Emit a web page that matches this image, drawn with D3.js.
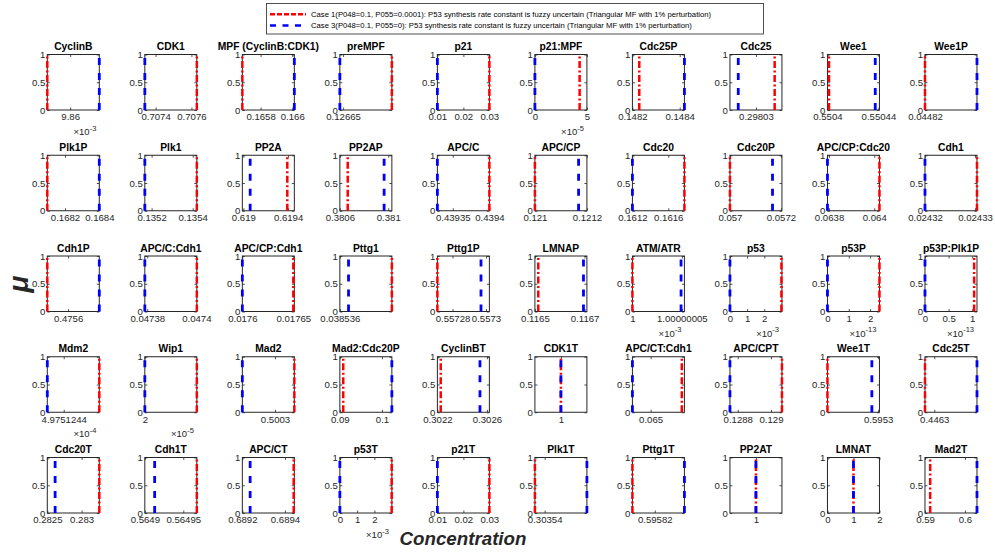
<!DOCTYPE html>
<html><head><meta charset="utf-8">
<script src="https://cdn.jsdelivr.net/npm/d3@7"></script>
<style>body{margin:0;background:#fff} svg{display:block} text{font-family:"Liberation Sans",Arial,Helvetica,sans-serif}</style>
</head><body><svg id="c" width="995" height="552"></svg>
<script>
// ---------- DATA ----------
const titles = [
  "CyclinB","CDK1","MPF (CyclinB:CDK1)","preMPF","p21","p21:MPF","Cdc25P","Cdc25","Wee1","Wee1P",
  "Plk1P","Plk1","PP2A","PP2AP","APC/C","APC/CP","Cdc20","Cdc20P","APC/CP:Cdc20","Cdh1",
  "Cdh1P","APC/C:Cdh1","APC/CP:Cdh1","Pttg1","Pttg1P","LMNAP","ATM/ATR","p53","p53P","p53P:Plk1P",
  "Mdm2","Wip1","Mad2","Mad2:Cdc20P","CyclinBT","CDK1T","APC/CT:Cdh1","APC/CPT","Wee1T","Cdc25T",
  "Cdc20T","Cdh1T","APC/CT","p53T","p21T","Plk1T","Pttg1T","PP2AT","LMNAT","Mad2T"
];
// x-axis limits (in displayed units, i.e. already divided by 10^exponent)
const xMin = [
  9.8578,0.70734,0.165685,0.126648,0.01,0,0.1482,0.298025,0.5504,0.04482,
  0.168097,0.135167,0.618991,0.3806,0.439329,0.121,0.1612,0.057,0.063793,0.02432,
  0.475596,0.047379,0.0176,0.038536,0.557271,0.1165,1,0,0,0,
  4.9751238,2,0.500268,0.09,0.3022,0.9999,0.0649895,0.128753,0.59526,0.446295,
  0.2825,0.5649,0.6892,0,0.01,0.303534,0.5958157,0.99,0,0.59
];
const xMax = [
  9.8628,0.70763,0.166013,0.12668,0.03,5,0.14842,0.298035,0.5504408,0.044824,
  0.1684,0.13542,0.619456,0.38103,0.4394,0.1212,0.16178,0.057204,0.064023,0.0243304,
  0.475606,0.0474002,0.017651,0.0385366,0.557302,0.1167094,1.0000000526,3.03,2.44,1.1,
  4.9751257,2.000001,0.500319,0.10235,0.30262,1.0001,0.0650195,0.129066,0.595301,0.446323,
  0.283258,0.5649676,0.689444,3.01,0.03,0.303566,0.5958257,1.01,2,0.603
];
// Case 1 (P048=0.1, P055=0.0001) – red dash-dot
const case1 = [
  9.8578,0.70763,0.165685,0.12668,0.03,4.3,0.148229,0.2980336,0.5504012,0.04482,
  0.168097,0.13542,0.619393,0.380665,0.4394,0.121,0.16178,0.057,0.064023,0.0243304,
  0.475596,0.0474002,0.01765,0.0385366,0.557271,0.1165136,1,3.0,2.44,1.04,
  4.9751257,2.000001,0.500319,0.0908,0.302227,1,0.065018,0.129066,0.59526,0.446295,
  0.283258,0.5649676,0.689441,3.0,0.03,0.303534,0.5958157,1,1,0.5913
];
// Case 3 (P048=0.1, P055=0) – blue dashed
const case3 = [
  9.8628,0.70734,0.166013,0.126648,0.01,0,0.14842,0.2980266,0.5504375,0.044824,
  0.1684,0.135167,0.619061,0.380966,0.439329,0.121168,0.1612,0.057167,0.063793,0.02432,
  0.475606,0.047379,0.0176,0.0385361,0.557297,0.1166956,1.0000000492,0,0,0,
  4.9751238,2,0.500268,0.10235,0.302544,1,0.0649895,0.128753,0.595295,0.446323,
  0.282614,0.5649128,0.6892366,0,0.01,0.303566,0.5958257,1,1,0.603
];
const xTicks = [
  [9.86],[0.7074,0.7076],[0.1658,0.166],[0.12665],[0.01,0.02,0.03],[0,5],[0.1482,0.1484],[0.29803],[0.5504,0.55044],[0.04482],
  [0.1682,0.1684],[0.1352,0.1354],[0.619,0.6194],[0.3806,0.381],[0.43935,0.4394],[0.121,0.1212],[0.1612,0.1616],[0.057,0.0572],[0.0638,0.064],[0.02432,0.02433],
  [0.4756],[0.04738,0.0474],[0.0176,0.01765],[0.038536],[0.55728,0.5573],[0.1165,0.1167],[1,1.00000005],[0,1,2],[0,1,2],[0,0.5,1],
  [4.9751244],[2],[0.5003],[0.09,0.1],[0.3022,0.3026],[1],[0.065],[0.1288,0.129],[0.5953],[0.4463],
  [0.2825,0.283],[0.5649,0.56495],[0.6892,0.6894],[0,1,2],[0.01,0.02,0.03],[0.30354],[0.59582],[1],[0,1,2],[0.59,0.6]
];
const xTickLabels = [
  ["9.86"],["0.7074","0.7076"],["0.1658","0.166"],["0.12665"],["0.01","0.02","0.03"],["0","5"],["0.1482","0.1484"],["0.29803"],["0.5504","0.55044"],["0.04482"],
  ["0.1682","0.1684"],["0.1352","0.1354"],["0.619","0.6194"],["0.3806","0.381"],["0.43935","0.4394"],["0.121","0.1212"],["0.1612","0.1616"],["0.057","0.0572"],["0.0638","0.064"],["0.02432","0.02433"],
  ["0.4756"],["0.04738","0.0474"],["0.0176","0.01765"],["0.038536"],["0.55728","0.5573"],["0.1165","0.1167"],["1","1.00000005"],["0","1","2"],["0","1","2"],["0","0.5","1"],
  ["4.9751244"],["2"],["0.5003"],["0.09","0.1"],["0.3022","0.3026"],["1"],["0.065"],["0.1288","0.129"],["0.5953"],["0.4463"],
  ["0.2825","0.283"],["0.5649","0.56495"],["0.6892","0.6894"],["0","1","2"],["0.01","0.02","0.03"],["0.30354"],["0.59582"],["1"],["0","1","2"],["0.59","0.6"]
];
// x-axis exponent (×10^n) per panel, null if none
const xExponent = [
  -3,null,null,null,null,-5,null,null,null,null,
  null,null,null,null,null,null,null,null,null,null,
  null,null,null,null,null,null,-3,-3,-13,-13,
  -4,-5,null,null,null,null,null,null,null,null,
  null,null,null,-3,null,null,null,null,null,null
];
const yTicks = [0, 0.5, 1];
const yTickLabels = ["0", "0.5", "1"];
const legendLabels = [
  "Case 1(P048=0.1, P055=0.0001): P53 synthesis rate constant is fuzzy uncertain (Triangular MF with 1% perturbation)",
  "Case 3(P048=0.1, P055=0): P53 synthesis rate constant is fuzzy uncertain (Triangular MF with 1% perturbation)"
];
const xLabel = "Concentration";
const yLabel = "\u03bc";

// ---------- STYLE / LAYOUT ----------
const RED = "#ff0000", BLUE = "#0000ff", AX = "#262626";
const redDash = "7,2.5,2,2.5", blueDash = "7,8";
const nCols = 10, boxW = 52, boxH = 55.5;
const left0 = 47.3, colStep = 97.52, top0 = 54.5, rowStep = 100.75;
const tickFont = 9.6;

const svg = d3.select("#c");
svg.append("rect").attr("width",995).attr("height",552).attr("fill","#fff");

titles.forEach((t, i) => {
  const r = Math.floor(i / nCols), c = i % nCols;
  const gx = left0 + c * colStep, gy = top0 + r * rowStep;
  const g = svg.append("g").attr("transform", `translate(${gx},${gy})`);
  const x = d3.scaleLinear().domain([xMin[i], xMax[i]]).range([0, boxW]);
  const y = d3.scaleLinear().domain([0, 1]).range([boxH, 0]);

  // bottom axis with labels (inward ticks)
  const gb = g.append("g").attr("transform", `translate(0,${boxH})`)
    .call(d3.axisBottom(x).tickValues(xTicks[i]).tickFormat((d, j) => xTickLabels[i][j])
      .tickSizeInner(-2.5).tickSizeOuter(0).tickPadding(3.5));
  // left axis
  const gl = g.append("g")
    .call(d3.axisLeft(y).tickValues(yTicks).tickFormat((d, j) => yTickLabels[j])
      .tickSizeInner(-2.5).tickSizeOuter(0).tickPadding(2));
  // top & right mirrored ticks
  const gt = g.append("g").call(d3.axisTop(x).tickValues(xTicks[i]).tickFormat("").tickSizeInner(-2.5).tickSizeOuter(0));
  const gr = g.append("g").attr("transform", `translate(${boxW},0)`)
    .call(d3.axisRight(y).tickValues(yTicks).tickFormat("").tickSizeInner(-2.5).tickSizeOuter(0));
  [gb, gl, gt, gr].forEach(a => {
    a.select(".domain").remove();
    a.selectAll("line").attr("stroke", AX).attr("stroke-width", 0.8);
    a.selectAll("text").attr("fill", AX).attr("font-size", tickFont)
      .attr("font-family", '"Liberation Sans",Arial,sans-serif');
  });
  // box
  g.append("rect").attr("width", boxW).attr("height", boxH)
    .attr("fill", "none").attr("stroke", AX).attr("stroke-width", 1);

  // exponent label
  if (xExponent[i] !== null) {
    const et = g.append("text").attr("x", boxW - 3).attr("y", boxH + 25)
      .attr("text-anchor", "end").attr("fill", AX).attr("font-size", 9.5);
    et.append("tspan").text("\u00d710");
    et.append("tspan").attr("dy", -4.5).attr("font-size", 7.5).text(String(xExponent[i]));
  }

  // data lines: case 1 (red dash-dot), case 3 (blue dashed)
  g.append("line").attr("x1", x(case1[i])).attr("x2", x(case1[i]))
    .attr("y1", y(0)).attr("y2", y(1))
    .attr("stroke", RED).attr("stroke-width", 2.5).attr("stroke-dasharray", redDash);
  g.append("line").attr("x1", x(case3[i])).attr("x2", x(case3[i]))
    .attr("y1", y(0)).attr("y2", y(1))
    .attr("stroke", BLUE).attr("stroke-width", 2.8).attr("stroke-dasharray", blueDash);

  // title
  g.append("text").attr("x", boxW / 2).attr("y", -4.5).attr("text-anchor", "middle")
    .attr("font-size", 10.3).attr("font-weight", "bold").attr("fill", "#000").text(t);
});

// ---------- LEGEND ----------
const lg = svg.append("g");
lg.append("rect").attr("x", 266.5).attr("y", 3.5).attr("width", 497).attr("height", 30.5)
  .attr("fill", "#fff").attr("stroke", "#262626").attr("stroke-width", 0.8);
[[RED, "5,2", 14.2], [BLUE, "6,6.5", 25.6]].forEach((s, k) => {
  lg.append("line").attr("x1", 270).attr("x2", 306).attr("y1", s[2]).attr("y2", s[2])
    .attr("stroke", s[0]).attr("stroke-width", 2.5).attr("stroke-dasharray", s[1]);
  lg.append("text").attr("x", 311).attr("y", s[2]).attr("dy", "0.35em")
    .attr("font-size", 8.5).attr("fill", "#000").text(legendLabels[k]);
});
// fit legend text widths (first ≈ 401px)
const lt = lg.selectAll("text").nodes();
const w0 = lt[0].getComputedTextLength();
lg.selectAll("text").attr("font-size", 8.5 * 401 / w0);

// ---------- AXIS LABELS ----------
const xl = svg.append("text").attr("x", 463).attr("y", 545).attr("text-anchor", "middle")
  .attr("font-size", 20).attr("font-weight", "bold").attr("font-style", "italic")
  .attr("fill", "#262626").text(xLabel);
const xw = xl.node().getComputedTextLength();
xl.attr("font-size", 20 * 127 / xw);
svg.append("text").attr("transform", "translate(27.5,284) rotate(-90)")
  .attr("text-anchor", "middle")
  .attr("font-size", 28).attr("font-weight", "bold").attr("font-style", "italic")
  .attr("fill", "#262626").text(yLabel);
</script></body></html>
